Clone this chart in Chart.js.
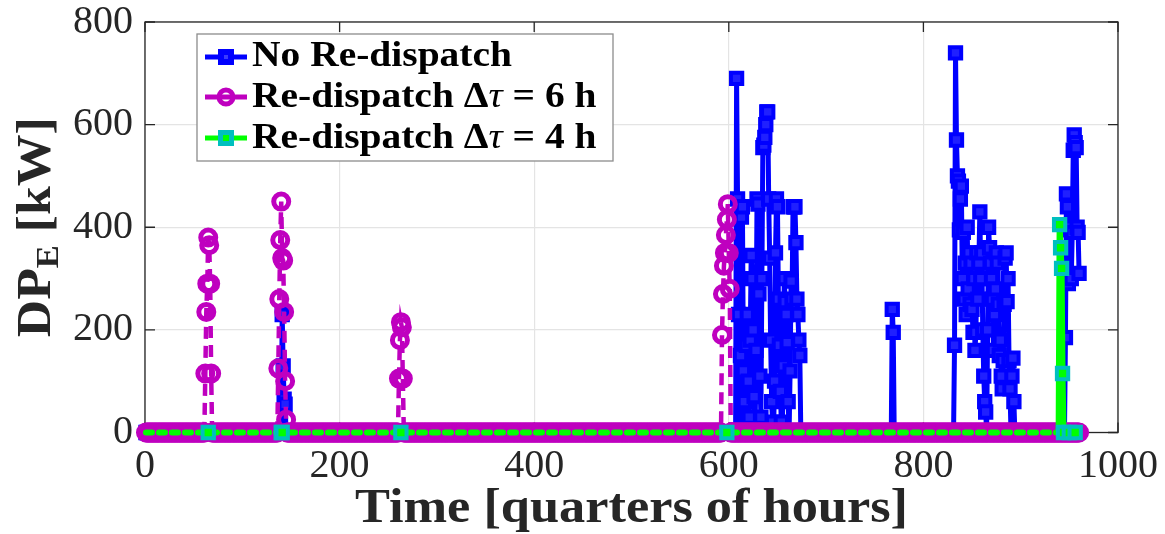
<!DOCTYPE html>
<html>
<head>
<meta charset="utf-8">
<script src="https://cdn.jsdelivr.net/npm/chart.js@4"></script>
<style>
  html, body { margin: 0; padding: 0; background: #fff; }
</style>
</head>
<body>
<canvas id="myChart" width="1165" height="534"></canvas>
<script>
// ---- data ----
const nSteps = 960;                       // quarters of hours
const xTicks = [0, 200, 400, 600, 800, 1000];
const yTicks = [0, 200, 400, 600, 800];
const seriesNames = ['No Re-dispatch', 'Re-dispatch Δτ = 6 h', 'Re-dispatch Δτ = 4 h'];

// every series is 0 kW except these stretches: [first step, values]
const noRedispatchRuns = [
    [141, [230, 130, 65, 55]],
    [608, [690, 455, 230, 0, 150, 420, 440, 120, 60, 0, 170, 230, 100, 30, 180, 345, 300, 200, 70, 0,
           160, 455, 445, 270, 110, 30, 300, 555, 560, 575, 600, 625, 625, 455, 340, 180, 60, 20, 0,
           100, 350, 455, 440, 260, 170, 80, 20, 0, 130, 300, 255, 230, 175, 60, 0, 120, 295, 260,
           440, 440, 440, 370, 260, 230, 180, 150]],
    [768, [240, 195]],
    [832, [170, 740, 570, 500, 490, 395, 455, 480, 300, 390, 260, 330, 230, 400, 280, 350, 250, 330,
           240, 195, 300, 160, 195, 350, 260, 330, 430, 300, 350, 200, 110, 60, 40, 0, 200, 400, 360,
           330, 300, 260, 160, 230, 280, 350, 330, 250, 150, 180, 110, 85, 140, 250, 340, 350, 255,
           300, 140, 85, 0, 110, 145, 60]],
    [946, [185, 465, 440, 290, 395, 400, 300, 390, 550, 580, 565, 555, 400, 390, 310]],
];
const redispatch6hRuns = [
    [62, [115, 235, 290, 380, 365, 290, 115]],
    [137, [125, 260, 375, 450, 340, 335, 235, 100, 25]],
    [261, [105, 180, 215, 205, 105]],
    [593, [190, 270, 325, 350, 385, 415, 445, 350, 280]],
];
const redispatch4hRuns = [
    [940, [405, 360, 320, 115]],
];
// steps where the 4 h markers show
const markerSteps4h = [65, 140, 141, 263, 598, 940, 941, 942, 943, 944, 950, 956];

const steps = Array.from({length: nSteps}, (_, i) => i + 1);

function expand(runs) {
    const v = steps.map(() => 0);
    runs.forEach(([start, vals]) => vals.forEach((y, k) => { v[start - 1 + k] = y; }));
    return steps.map((t, i) => ({x: t, y: v[i]}));
}

// ---- look ----
const serif = "'Liberation Serif', 'DejaVu Serif', serif";
const axisColor = '#262626';
const blue = '#0000ff';
const magenta = '#bf00bf';
const green = '#00ff00';
const cyan = '#00bfbf';
const markerSet4h = new Set(markerSteps4h);

function stretchText(ctx, text, x, y, sx) {
    ctx.save();
    ctx.translate(x, y);
    ctx.scale(sx, 1);
    ctx.fillText(text, 0, 0);
    ctx.restore();
}

const matlabAxes = {
    id: 'matlabAxes',
    beforeDatasetsDraw(chart) {
        const {ctx, chartArea: a, scales: {x, y}} = chart;
        ctx.save();
        ctx.strokeStyle = axisColor;
        ctx.lineWidth = 1.3;
        ctx.strokeRect(a.left, a.top, a.right - a.left, a.bottom - a.top);
        const tl = 10;
        ctx.beginPath();
        xTicks.forEach(v => {
            const px = x.getPixelForValue(v);
            ctx.moveTo(px, a.bottom); ctx.lineTo(px, a.bottom - tl);
            ctx.moveTo(px, a.top); ctx.lineTo(px, a.top + tl);
        });
        yTicks.forEach(v => {
            const py = y.getPixelForValue(v);
            ctx.moveTo(a.left, py); ctx.lineTo(a.left + tl, py);
            ctx.moveTo(a.right, py); ctx.lineTo(a.right - tl, py);
        });
        ctx.stroke();
        ctx.restore();
    },
    afterDraw(chart) {
        const {ctx, chartArea: a} = chart;
        ctx.save();
        ctx.fillStyle = axisColor;

        // x title
        ctx.font = 'bold 48px ' + serif;
        ctx.textAlign = 'center';
        ctx.textBaseline = 'alphabetic';
        const xt = 'Time [quarters of hours]';
        const sx = 553 / ctx.measureText(xt).width;
        stretchText(ctx, xt, (a.left + a.right) / 2, 522, sx);

        // y title, DP_E [kW]
        ctx.save();
        ctx.translate(50, (a.top + a.bottom) / 2);
        ctx.rotate(-Math.PI / 2);
        ctx.textAlign = 'left';
        const big = 'bold 48px ' + serif, small = 'bold 32px ' + serif;
        ctx.font = big; const w1 = ctx.measureText('DP').width;
        ctx.font = small; const w2 = ctx.measureText('E').width;
        ctx.font = big; const w3 = ctx.measureText(' [kW]').width;
        const sy = 220 / (w1 + w2 + w3);
        ctx.scale(sy, 1);
        let px = -(w1 + w2 + w3) / 2;
        ctx.font = big; ctx.fillText('DP', px, 0); px += w1;
        ctx.font = small; ctx.fillText('E', px, 8); px += w2;
        ctx.font = big; ctx.fillText(' [kW]', px, 0);
        ctx.restore();

        // legend
        const box = {x: 197, y: 34, w: 416, h: 127};
        ctx.fillStyle = '#fff';
        ctx.fillRect(box.x, box.y, box.w, box.h);
        ctx.strokeStyle = '#8c8c8c';
        ctx.lineWidth = 1.3;
        ctx.strokeRect(box.x, box.y, box.w, box.h);

        const rows = [57, 97, 138];
        const baselines = [66, 107, 148];
        const lineCols = [blue, magenta, green];
        rows.forEach((ry, i) => {
            ctx.strokeStyle = lineCols[i];
            ctx.lineWidth = 5;
            ctx.beginPath(); ctx.moveTo(205, ry); ctx.lineTo(247, ry); ctx.stroke();
            if (i === 0) {
                ctx.fillStyle = blue; ctx.fillRect(218, ry - 8, 16, 16);
                ctx.fillStyle = '#3a3aff'; ctx.fillRect(224, ry - 2, 4, 4);
            } else if (i === 1) {
                ctx.strokeStyle = magenta; ctx.lineWidth = 5;
                ctx.beginPath(); ctx.arc(226, ry, 7, 0, Math.PI * 2); ctx.stroke();
            } else {
                ctx.fillStyle = cyan; ctx.fillRect(218, ry - 8, 16, 16);
                ctx.fillStyle = green; ctx.fillRect(223, ry - 3, 6, 6);
            }
        });

        ctx.fillStyle = '#000';
        ctx.textAlign = 'left';
        const lf = 'bold 35px ' + serif, lfi = 'italic 35px ' + serif;
        ctx.font = lf;
        const ls = 260 / ctx.measureText(seriesNames[0]).width;
        rows.forEach((ry, i) => {
            ctx.save();
            ctx.translate(252, baselines[i]);
            ctx.scale(ls, 1);
            const name = seriesNames[i];
            const k = name.indexOf('τ');
            if (k < 0) {
                ctx.font = lf; ctx.fillText(name, 0, 0);
            } else {
                let p = 0;
                [[name.slice(0, k), lf], ['τ', lfi], [name.slice(k + 1), lf]].forEach(([s, f]) => {
                    ctx.font = f; ctx.fillText(s, p, 0); p += ctx.measureText(s).width;
                });
            }
            ctx.restore();
        });
        ctx.restore();
    }
};

const ctx = document.getElementById('myChart').getContext('2d');

const myChart = new Chart(ctx, {
    type: 'line',
    data: {
        datasets: [{
            label: seriesNames[0],
            data: expand(noRedispatchRuns),
            borderColor: blue,
            borderWidth: 5,
            borderJoinStyle: 'round',
            pointStyle: 'rect',
            pointRadius: 8,
            pointBorderWidth: 4,
            pointBorderColor: blue,
            pointBackgroundColor: '#2020ff',
            clip: false,
            order: 2,
        }, {
            label: seriesNames[1],
            data: expand(redispatch6hRuns),
            borderColor: magenta,
            borderWidth: 4.5,
            borderDash: [12, 7],
            pointStyle: 'circle',
            pointRadius: 7.5,
            pointBorderWidth: 5,
            pointBorderColor: magenta,
            pointBackgroundColor: 'rgba(0,0,0,0)',
            clip: false,
            order: 1,
        }, {
            label: seriesNames[2],
            data: expand(redispatch4hRuns),
            borderColor: green,
            borderWidth: 6,
            borderCapStyle: 'round',
            segment: {
                borderDash: c => (c.p0.parsed.y === 0 && c.p1.parsed.y === 0) ? [6, 7] : undefined,
            },
            pointStyle: 'rect',
            pointRadius: c => markerSet4h.has(c.index + 1) ? 8 : 0,
            pointBorderWidth: 4,
            pointBorderColor: cyan,
            pointBackgroundColor: green,
            clip: false,
            order: 0,
        }],
    },
    options: {
        responsive: false,
        animation: false,
        layout: {
            padding: {left: 0, right: 47, top: 22, bottom: 0},
        },
        elements: {
            point: {hoverRadius: 8},
        },
        scales: {
            x: {
                type: 'linear',
                min: 0,
                max: 1000,
                afterBuildTicks: s => { s.ticks = xTicks.map(v => ({value: v})); },
                afterFit: s => {
                    s.height = 534 - 432.5;
                    s.paddingLeft = 0; s.paddingRight = 0;
                },
                grid: {color: '#e4e4e4', lineWidth: 1.2, drawTicks: false},
                border: {display: false},
                ticks: {
                    color: axisColor,
                    padding: 14,
                    maxRotation: 0,
                    autoSkip: false,
                    callback: v => String(v),
                    font: {family: serif, size: 40, lineHeight: 1},
                },
            },
            y: {
                type: 'linear',
                min: 0,
                max: 800,
                afterBuildTicks: s => { s.ticks = yTicks.map(v => ({value: v})); },
                afterFit: s => {
                    s.width = 145;
                    s.paddingTop = 0; s.paddingBottom = 0;
                },
                grid: {color: '#e4e4e4', lineWidth: 1.2, drawTicks: false},
                border: {display: false},
                ticks: {
                    color: axisColor,
                    padding: 12,
                    callback: v => String(v),
                    font: {family: serif, size: 40, lineHeight: 1},
                },
            },
        },
        plugins: {
            legend: {display: false},
            tooltip: {enabled: false},
        },
    },
    plugins: [matlabAxes],
});
</script>
</body>
</html>
